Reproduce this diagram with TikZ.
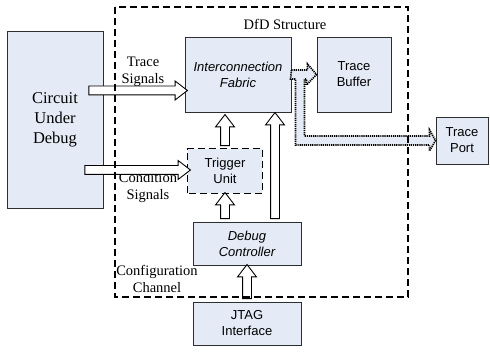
\documentclass[tikz,border=0pt]{standalone}
\usepackage{fontspec}
\setmainfont{Liberation Serif}
\setsansfont{Liberation Sans}
\usepackage{tikz}
\usetikzlibrary{shapes.arrows,calc}
\definecolor{boxfill}{HTML}{E4EBF6}
\definecolor{boxline}{HTML}{2E2E2E}

\tikzset{
  unit/.style={draw=boxline, line width=0.9pt, fill=boxfill, align=center,
    inner sep=0pt, font=\sffamily\fontsize{13}{16}\selectfont},
  dfdframe/.style={draw=black, line width=1.6pt, dash pattern=on 7pt off 4pt},
  sig/.style={align=center, font=\fontsize{14.5}{17}\selectfont},
  fatarrow/.style={single arrow, draw=black, line width=0.9pt, fill=white,
    inner xsep=0pt, inner ysep=4pt, minimum width=1pt,
    single arrow head extend=5pt, single arrow tip angle=75},
  tracepath/.style={draw=black, line width=1.7pt, dash pattern=on 1.2pt off 0.9pt,
    fill=boxfill}
}

% hollow arrow from #1 to #2
\newcommand{\fatarrow}[2]{%
  \path let \p1=($(#2)-(#1)$), \n1={atan2(\y1,\x1)}, \n2={veclen(\x1,\y1)} in
    node[fatarrow, minimum height=\n2, rotate=\n1] at ($(#1)!0.5!(#2)$) {};}

\begin{document}
\begin{tikzpicture}[x=1pt,y=1pt]
    \useasboundingbox (0,0) rectangle (490,352);

    % blocks
    \node[unit, font=\fontsize{16.5}{20}\selectfont, minimum width=96, minimum height=177]
      (cud) at (55,232.5) {Circuit\\Under\\Debug};
    \node[unit, minimum width=106, minimum height=75] (fab) at (238,277.5)
      {\itshape Interconnection\\\itshape Fabric};
    \node[unit, minimum width=74, minimum height=75] (buf) at (354,277.5) {Trace\\Buffer};
    \node[unit, minimum width=52, minimum height=47] (port) at (462,211.5) {Trace\\Port};
    \node[unit, draw=none, minimum width=74, minimum height=44] (trig) at (225,181) {Trigger\\Unit};
    \draw[dfdframe] (trig.south west) rectangle (trig.north east);
    \node[unit, minimum width=108, minimum height=43] (ctrl) at (247,108.5)
      {\itshape Debug\\\itshape Controller};
    \node[unit, minimum width=108, minimum height=43] (jtag) at (247,28.5) {JTAG\\Interface};

    % labels
    \node[sig] (dfd) at (285,328) {DfD Structure};
    \node[sig] (tsl) at (143,280) {Trace\\Signals};
    \node[sig] (csl) at (148,164) {Condition\\Signals};
    \node[sig] (ccl) at (157,73) {Configuration\\Channel};

    % trace data out to buffer and port
    \draw[tracepath] ($(fab.east)+(0,4.5)$) -- ++(16,0) -- ++(0,6) -- (buf.west)
      -- ++(-10,-10.5) -- ++(0,6) -- ++(-2,0) -- ++(0,-57) -- ++(125,0) -- ++(0,6)
      -- (port.west) -- ++(-6,-10.5) -- ++(0,6) -- ++(-134,0) -- ++(0,66)
      -- ++(-5,0) -- cycle;

    % signal and control arrows
    \coordinate (tsig) at (86,261.5);
    \coordinate (csig) at (82,182);
    \coordinate (cx) at (275,0);
    \fatarrow{tsig}{fab.west |- tsig}
    \fatarrow{csig}{trig.west |- csig}
    \coordinate (t1) at ($(trig.north |- fab.south)+(0,-5)$);
    \fatarrow{trig.north}{t1}
    \coordinate (t2) at ($(trig.south)+(0,-2)$);
    \fatarrow{trig.south |- ctrl.north}{t2}
    \coordinate (t3) at ($(cx |- fab.south)+(0,-3)$);
    \fatarrow{cx |- ctrl.north}{t3}
    \coordinate (t4) at ($(ctrl.south)+(0,-2)$);
    \fatarrow{jtag.north}{t4}

    % DfD structure frame
    \draw[dfdframe] (115,345) rectangle (408,55);
\end{tikzpicture}
\end{document}
